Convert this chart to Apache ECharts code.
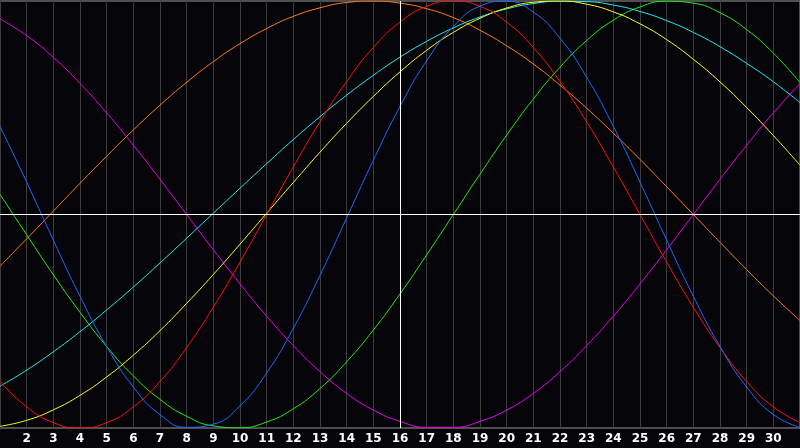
<!DOCTYPE html>
<html>
<head>
<meta charset="utf-8">
<script src="https://cdn.jsdelivr.net/npm/echarts@6/dist/echarts.min.js"></script>
<style>
  html, body { margin: 0; padding: 0; background: #050409; }
  #chart { width: 800px; height: 448px; }
</style>
</head>
<body>
<div id="chart"></div>
<script>
// days of the month
let days = [];
for (let d = 1; d <= 31; d++) days.push(d);

// curve values, -100 .. 100
let physical = [41.3, 15.2, -12.0, -38.3, -61.8, -80.8, -93.7, -99.7, -98.2, -89.6, -74.2, -53.3, -28.5, -1.6, 25.4, 50.6, 72.0, 88.0, 97.6, 99.9, 94.8, 82.6, 64.3, 41.3, 15.2, -12.0, -38.3, -61.8, -80.8, -93.7, -99.7];
let emotional = [-78.2, -90.1, -97.5, -100, -97.5, -90.1, -78.2, -62.3, -43.4, -22.3, 0, 22.3, 43.4, 62.3, 78.2, 90.1, 97.5, 100, 97.5, 90.1, 78.2, 62.3, 43.4, 22.3, 0, -22.3, -43.4, -62.3, -78.2, -90.1, -97.5];
let intellectual = [9.5, -9.5, -28.2, -45.8, -61.8, -75.6, -86.6, -94.5, -99.0, -99.9, -97.2, -91.0, -81.5, -69.0, -54.1, -37.2, -18.9, 0, 18.9, 37.2, 54.1, 69.0, 81.5, 91.0, 97.2, 99.9, 99.0, 94.5, 86.6, 75.6, 61.8];
let intuitive = [91.6, 83.8, 73.6, 61.4, 47.6, 32.5, 16.5, 0, -16.5, -32.5, -47.6, -61.4, -73.6, -83.8, -91.6, -96.9, -99.7, -99.7, -96.9, -91.6, -83.8, -73.6, -61.4, -47.6, -32.5, -16.5, 0, 16.5, 32.5, 47.6, 61.4];
let awareness = [-24.2, -11.4, 1.6, 14.6, 27.3, 39.6, 51.2, 61.9, 71.6, 80.0, 87.1, 92.8, 96.8, 99.3, 100, 99.0, 96.4, 92.2, 86.3, 79.0, 70.5, 60.6, 49.8, 38.1, 25.8, 13.0, 0, -13.0, -25.8, -38.1, -49.7];
let spiritual = [-80.4, -72.9, -64.3, -54.9, -44.7, -34.0, -22.7, -11.1, 0.6, 12.3, 23.8, 35.1, 45.8, 55.9, 65.2, 73.7, 81.1, 87.4, 92.5, 96.3, 98.8, 99.9, 99.7, 98.1, 95.1, 90.8, 85.3, 78.6, 70.8, 62.2, 52.4];
let aesthetic = [-99.2, -96.4, -91.5, -84.7, -76.1, -65.9, -54.4, -41.6, -28.1, -13.9, 0.6, 15.0, 29.2, 42.7, 55.3, 66.8, 76.9, 85.3, 91.9, 96.7, 99.4, 100, 98.5, 94.9, 89.3, 81.9, 72.7, 62.1, 50.1, 37.0, 23.1];

let today = 16;

function pairs(values) {
    return values.map(function (v, i) { return [days[i], v]; });
}

(function () {
    let myChart = echarts.init(document.getElementById('chart'));
    let lines = [
        { name: '智力', data: intellectual, color: '#22ee11' },
        { name: '直觉', data: intuitive, color: '#ee00ee' },
        { name: '觉知', data: awareness, color: '#ff8018' },
        { name: '精神', data: spiritual, color: '#22eeee' },
        { name: '审美', data: aesthetic, color: '#ffff22' },
        { name: '情绪', data: emotional, color: '#ff1010' },
        { name: '体力', data: physical, color: '#1c6cff' }
    ];
    let series = lines.map(function (l) {
        return {
            name: l.name,
            type: 'line',
            smooth: true,
            showSymbol: false,
            silent: true,
            lineStyle: { color: l.color, width: 1 },
            data: pairs(l.data)
        };
    });
    // 中心十字线
    series.push({
        type: 'line',
        data: [],
        silent: true,
        markLine: {
            symbol: 'none',
            silent: true,
            label: { show: false },
            lineStyle: { color: '#ffffff', width: 1, type: 'solid' },
            data: [{ yAxis: 0 }, { xAxis: today }]
        }
    });
    let option = {
        backgroundColor: '#050409',
        animation: false,
        grid: {
            left: 0, right: -1, top: 1, bottom: 20,
            show: true,
            borderColor: '#9a9a9a',
            borderWidth: 1
        },
        xAxis: {
            type: 'value',
            min: 1,
            max: 31,
            interval: 1,
            axisLine: { lineStyle: { color: '#a0a0a0' } },
            axisTick: { show: false },
            splitLine: { show: true, lineStyle: { color: '#3c3c3c', width: 1 } },
            axisLabel: {
                showMinLabel: false,
                showMaxLabel: false,
                color: '#ffffff',
                fontFamily: 'DejaVu Sans',
                fontWeight: 'bold',
                fontSize: 12,
                margin: 5
            }
        },
        yAxis: {
            type: 'value',
            min: -100,
            max: 100,
            show: false,
            splitLine: { show: false }
        },
        series: series
    };
    myChart.setOption(option);
    window.addEventListener('resize', function () {
        myChart.resize()
    })
})();
</script>
</body>
</html>
